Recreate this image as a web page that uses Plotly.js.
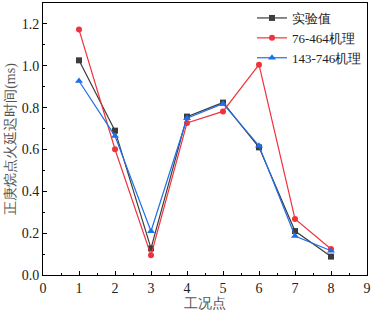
<!DOCTYPE html>
<html><head><meta charset="utf-8">
<script src="https://cdn.plot.ly/plotly-3.0.1.min.js"></script>
<style>body{margin:0;background:#fff}#c{width:373px;height:316px}</style>
</head><body><div id="c"></div>
<script>
const xPoints = [1,2,3,4,5,6,7,8];
const expValues = [1.026,0.690,0.127,0.757,0.824,0.610,0.210,0.088];
const mech76Values = [1.173,0.601,0.094,0.727,0.782,1.005,0.268,0.124];
const mech143Values = [0.927,0.664,0.209,0.749,0.819,0.618,0.186,0.116];
const seriesNames = ['实验值','76-464机理','143-746机理'];
const xTitle = '工况点';
const yTitle = '正庚烷点火延迟时间(ms)';

const fontFam = 'Times New Roman';
function tr(y, name, color, sym, sz){
  return {x:xPoints, y:y, name:name, type:'scatter', mode:'lines+markers',
    line:{color:color, width:1.2}, marker:{symbol:sym, size:sz, color:color}};
}
const data = [
  tr(expValues, seriesNames[0], '#3c3c3c', 'square', 6),
  tr(mech76Values, seriesNames[1], '#f0323c', 'circle', 6),
  tr(mech143Values, seriesNames[2], '#1f6fe8', 'triangle-up', 7)
];
const axisCommon = {showgrid:false, zeroline:false, showline:true, linecolor:'#000', linewidth:1,
  mirror:true, ticks:'inside', ticklen:4, tickcolor:'#000', tickfont:{family:fontFam,size:14,color:'#222'}};
const layout = {
  width:373, height:316, margin:{l:43,r:6,t:3,b:41},
  paper_bgcolor:'#fff', plot_bgcolor:'#fff', showlegend:true,
  font:{family:fontFam},
  xaxis:Object.assign({}, axisCommon, {range:[0,9], dtick:1, tick0:0,
    minor:{dtick:0.5, ticks:'inside', ticklen:2, tickcolor:'#000'},
    title:{text:xTitle, font:{family:fontFam,size:14,color:'#555'}, standoff:2}}),
  yaxis:Object.assign({}, axisCommon, {range:[0,1.3], dtick:0.2, tick0:0, tickformat:'.1f',
    minor:{dtick:0.1, ticks:'inside', ticklen:2, tickcolor:'#000'},
    title:{text:yTitle, font:{family:fontFam,size:14,color:'#555'}, standoff:2}}),
  legend:{x:1.0, y:1.0, xanchor:'right', yanchor:'top', bgcolor:'rgba(0,0,0,0)',
    font:{family:fontFam,size:13,color:'#222'}, tracegroupgap:0, itemwidth:30}
};
Plotly.newPlot('c', data, layout, {displayModeBar:false, staticPlot:true});
</script></body></html>
